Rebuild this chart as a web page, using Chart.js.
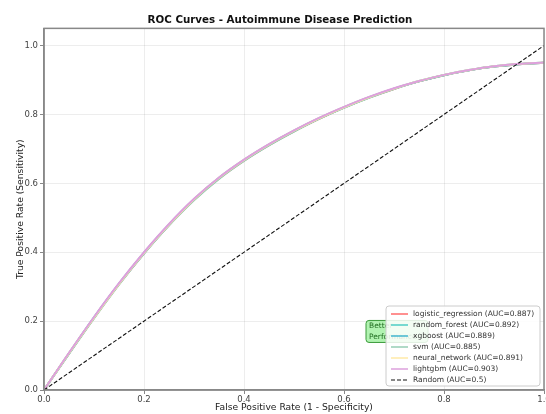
<!DOCTYPE html>
<html>
<head>
<meta charset="utf-8">
<script src="https://cdn.jsdelivr.net/npm/chart.js@4.4.1/dist/chart.umd.min.js"></script>
<style>
  html, body { margin: 0; padding: 0; background: #fff; overflow: hidden; }
  #wrap { width: 560px; height: 414px; }
</style>
</head>
<body>
<div id="wrap"><canvas id="roc" width="560" height="414"></canvas></div>
<script>
// ROC curve data
const fpr = [0, 0.05, 0.1, 0.15, 0.2, 0.25, 0.3, 0.35, 0.4, 0.45, 0.5, 0.55, 0.6, 0.65, 0.7, 0.75, 0.8, 0.85, 0.9, 0.95, 1.0];

const tprLogistic = [0, 0.106, 0.209, 0.307, 0.397, 0.479, 0.552, 0.614, 0.666, 0.711, 0.751, 0.787, 0.820, 0.849, 0.874, 0.896, 0.914, 0.928, 0.939, 0.946, 0.950];
const tprForest   = [0, 0.107, 0.211, 0.309, 0.399, 0.481, 0.554, 0.616, 0.668, 0.713, 0.753, 0.789, 0.821, 0.850, 0.875, 0.897, 0.915, 0.929, 0.940, 0.947, 0.951];
const tprXgboost  = [0, 0.106, 0.210, 0.308, 0.397, 0.479, 0.553, 0.615, 0.667, 0.712, 0.752, 0.788, 0.820, 0.849, 0.875, 0.896, 0.914, 0.928, 0.939, 0.946, 0.950];
const tprSvm      = [0, 0.105, 0.208, 0.306, 0.396, 0.478, 0.551, 0.613, 0.665, 0.710, 0.750, 0.787, 0.819, 0.848, 0.874, 0.896, 0.914, 0.928, 0.939, 0.946, 0.950];
const tprNeural   = [0, 0.107, 0.210, 0.308, 0.398, 0.480, 0.554, 0.616, 0.668, 0.713, 0.753, 0.789, 0.821, 0.850, 0.875, 0.897, 0.915, 0.929, 0.940, 0.947, 0.951];
const tprLightgbm = [0, 0.108, 0.212, 0.310, 0.400, 0.482, 0.555, 0.617, 0.669, 0.714, 0.754, 0.790, 0.822, 0.851, 0.876, 0.897, 0.915, 0.929, 0.940, 0.947, 0.951];

const randomX = [0, 1];
const randomY = [0, 1];

const modelNames = ['logistic_regression', 'random_forest', 'xgboost', 'svm', 'neural_network', 'lightgbm'];
const modelAuc = [0.887, 0.892, 0.889, 0.885, 0.891, 0.903];
const modelTpr = [tprLogistic, tprForest, tprXgboost, tprSvm, tprNeural, tprLightgbm];
const modelColors = ['#FF6B6B', '#4ECDC4', '#45B7D1', '#96CEB4', '#FFEAA7', '#DDA0DD'];

const tickValues = [0, 0.2, 0.4, 0.6, 0.8, 1.0];

const toPoints = (xs, ys) => xs.map((x, i) => ({ x: x, y: ys[i] }));

const datasets = modelNames.map((name, i) => ({
    label: name + ' (AUC=' + modelAuc[i] + ')',
    data: toPoints(fpr, modelTpr[i]),
    borderColor: modelColors[i],
    borderWidth: 2,
    pointRadius: 0,
    showLine: true,
    fill: false,
    cubicInterpolationMode: 'monotone',
    order: modelNames.length - i
}));

datasets.push({
    label: 'Random (AUC=0.5)',
    data: toPoints(randomX, randomY),
    borderColor: '#111',
    borderWidth: 1.1,
    borderDash: [4, 2],
    pointRadius: 0,
    showLine: true,
    fill: false,
    order: -1
});

const FONT = "'DejaVu Sans', sans-serif";

// frame, "Better Performance" note and the legend inside the plot
const extras = {
    id: 'extras',
    afterDatasetsDraw(chart) {
        const ctx = chart.ctx;
        const a = chart.chartArea;
        const xs = chart.scales.x, ys = chart.scales.y;

        // annotation box (mostly hidden by the legend)
        const ax = xs.getPixelForValue(0.65);
        const ay = ys.getPixelForValue(0.17);
        ctx.save();
        ctx.font = '7.5px ' + FONT;
        ctx.fillStyle = 'rgba(144, 238, 144, 0.7)';
        ctx.strokeStyle = '#3a9a3a';
        ctx.lineWidth = 1;
        ctx.beginPath();
        ctx.roundRect(ax - 3, ay - 11, 62, 22, 3);
        ctx.fill();
        ctx.stroke();
        ctx.fillStyle = '#1e6b1e';
        ctx.textBaseline = 'middle';
        ctx.fillText('Better', ax, ay - 5);
        ctx.fillText('Performance', ax, ay + 6);
        ctx.restore();

        // frame around plot
        ctx.save();
        ctx.strokeStyle = '#888';
        ctx.lineWidth = 1.5;
        ctx.strokeRect(a.left, a.top, a.right - a.left, a.bottom - a.top);
        ctx.restore();
    },
    afterDraw(chart) {
        const ctx = chart.ctx;
        const left = 386, top = 306, w = 154, h = 80;
        ctx.save();
        ctx.fillStyle = 'rgba(255,255,255,0.85)';
        ctx.strokeStyle = '#ccc';
        ctx.lineWidth = 1;
        ctx.beginPath();
        ctx.roundRect(left, top, w, h, 3);
        ctx.fill();
        ctx.stroke();
        ctx.font = '7.5px ' + FONT;
        ctx.textBaseline = 'middle';
        chart.data.datasets.forEach((ds, i) => {
            const y = top + 8 + i * 11;
            ctx.strokeStyle = ds.borderColor;
            ctx.lineWidth = ds.borderDash ? 1 : 1.5;
            ctx.setLineDash(ds.borderDash || []);
            ctx.beginPath();
            ctx.moveTo(left + 5, y);
            ctx.lineTo(left + 22, y);
            ctx.stroke();
            ctx.setLineDash([]);
            ctx.fillStyle = '#333';
            ctx.fillText(ds.label, left + 27, y + 0.5);
        });
        ctx.restore();
    }
};

const onlyTicks = scale => { scale.ticks = tickValues.map(v => ({ value: v })); };

new Chart(document.getElementById('roc').getContext('2d'), {
    type: 'scatter',
    data: { datasets: datasets },
    options: {
        responsive: false,
        devicePixelRatio: 1,
        animation: false,
        layout: { padding: { left: 0, right: 0, top: 0, bottom: 0 } },
        plugins: {
            legend: { display: false },
            tooltip: { enabled: false },
            title: {
                display: true,
                text: 'ROC Curves - Autoimmune Disease Prediction',
                color: '#111',
                font: { family: FONT, size: 10.3, weight: 'bold' },
                padding: { top: 14, bottom: 2 }
            }
        },
        scales: {
            x: {
                type: 'linear',
                min: 0,
                max: 1,
                afterBuildTicks: onlyTicks,
                afterFit: s => { s.height = 24; },
                grid: { color: 'rgba(0,0,0,0.07)', tickLength: 4, tickColor: '#888' },
                border: { color: '#888', width: 1.5 },
                ticks: {
                    color: '#444',
                    padding: 1,
                    maxRotation: 0,
                    font: { family: FONT, size: 8.5 },
                    callback: v => v.toFixed(1)
                },
                title: {
                    display: true,
                    text: 'False Positive Rate (1 - Specificity)',
                    color: '#222',
                    font: { family: FONT, size: 9.2 },
                    padding: { top: 0, bottom: 1 }
                }
            },
            y: {
                type: 'linear',
                min: 0,
                max: 1.05,
                afterBuildTicks: onlyTicks,
                afterFit: s => { s.width = 44; },
                grid: { color: 'rgba(0,0,0,0.07)', tickLength: 4, tickColor: '#888' },
                border: { color: '#888', width: 1.5 },
                ticks: {
                    color: '#444',
                    padding: 2,
                    font: { family: FONT, size: 8.5 },
                    callback: v => v.toFixed(1)
                },
                title: {
                    display: true,
                    text: 'True Positive Rate (Sensitivity)',
                    color: '#222',
                    font: { family: FONT, size: 9.2 },
                    padding: { top: 15, bottom: 0 }
                }
            },
            pad: {
                type: 'linear',
                position: 'right',
                display: true,
                afterFit: s => { s.width = 16; },
                grid: { display: false },
                border: { display: false },
                ticks: { display: false }
            }
        }
    },
    plugins: [extras]
});
</script>
</body>
</html>
